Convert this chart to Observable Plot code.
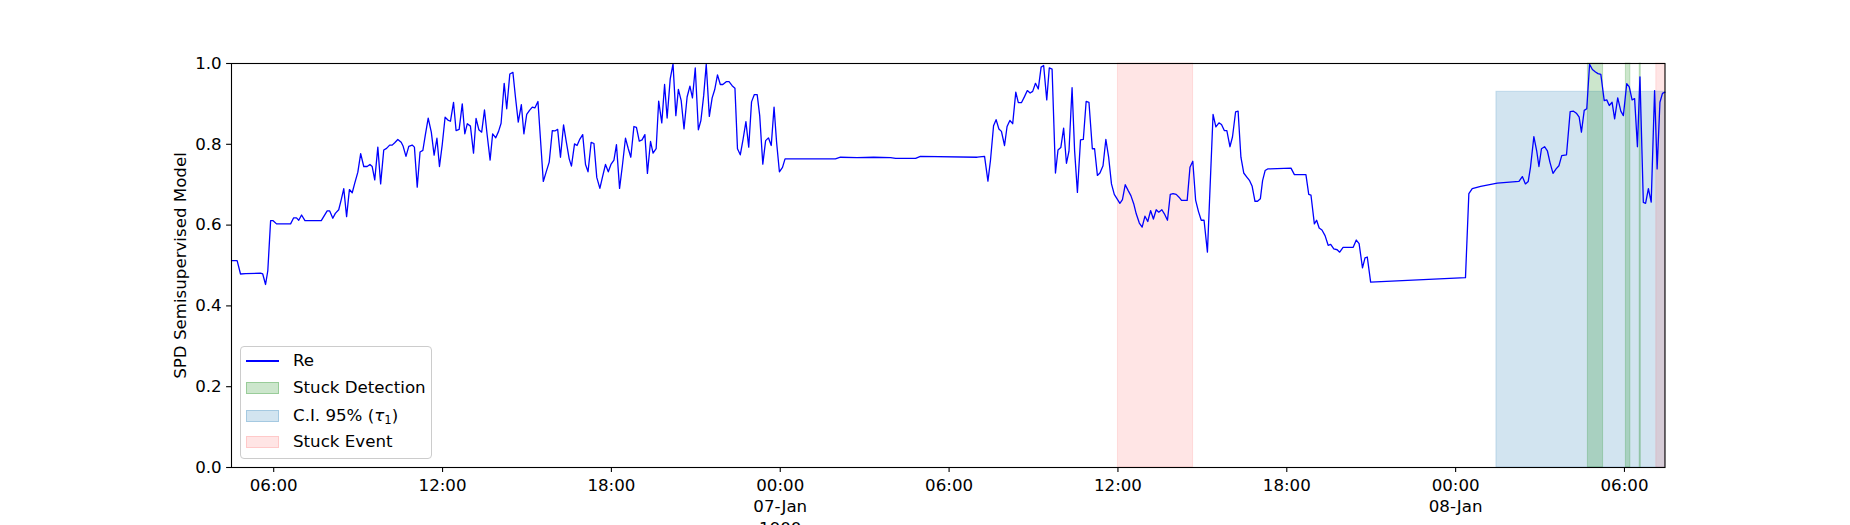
<!DOCTYPE html>
<html>
<head>
<meta charset="utf-8">
<script src="https://cdn.jsdelivr.net/npm/d3@7"></script>
<script src="https://cdn.jsdelivr.net/npm/@observablehq/plot@0.6"></script>
<style>
  html, body { margin: 0; padding: 0; background: #fff; }
  #wrap { position: relative; width: 1850px; height: 525px; overflow: hidden; font-family: "DejaVu Sans", sans-serif; }
  #legend { position: absolute; left: 240px; top: 346px; width: 192px; height: 113px; box-sizing: border-box;
            border: 1.1px solid #cccccc; border-radius: 4px; background: rgba(255,255,255,0.8); font-size: 16.67px; color: #000; }
  .row { position: absolute; left: 0; height: 22px; width: 100%; }
  .sw { position: absolute; left: 5px; width: 33.3px; box-sizing: border-box; }
  .lab { position: absolute; left: 52px; top: 0; line-height: 22px; white-space: nowrap; }
</style>
</head>
<body>
<div id="wrap"></div>
<script>
// ---- data: hours since 06-Jan-1900 00:00 and model values ----
const hours = [
  4.50,4.70,4.82,5.00,5.53,5.61,5.71,5.79,5.89,5.98,6.10,6.60,6.71,6.81,6.89,6.99,7.11,7.69,7.90,7.99,
  8.10,8.19,8.31,8.40,8.49,8.59,8.69,8.79,8.88,8.99,9.09,9.20,9.32,9.42,9.50,9.59,9.70,9.80,9.91,10.01,
  10.12,10.21,10.30,10.41,10.53,10.60,10.70,10.80,10.92,11.00,11.10,11.20,11.30,11.39,11.49,11.60,11.70,11.80,11.89,11.99,
  12.09,12.19,12.28,12.39,12.48,12.59,12.70,12.79,12.88,12.99,13.10,13.19,13.29,13.39,13.49,13.58,13.69,13.78,13.89,13.99,
  14.08,14.19,14.28,14.39,14.50,14.59,14.69,14.80,14.89,14.99,15.09,15.19,15.28,15.39,15.58,15.68,15.79,15.90,15.99,16.09,
  16.19,16.30,16.39,16.50,16.58,16.69,16.78,16.88,16.98,17.08,17.17,17.28,17.38,17.48,17.59,17.68,17.79,17.89,17.99,18.09,
  18.18,18.29,18.39,18.50,18.60,18.69,18.80,18.89,18.99,19.09,19.19,19.28,19.39,19.48,19.59,19.68,19.79,19.89,19.98,20.09,
  20.19,20.29,20.38,20.48,20.58,20.69,20.79,20.88,20.98,21.09,21.18,21.28,21.37,21.48,21.58,21.67,21.77,21.87,21.96,22.08,
  22.18,22.29,22.39,22.48,22.58,22.68,22.78,22.88,22.98,23.08,23.18,23.27,23.38,23.48,23.58,23.68,23.78,23.87,23.97,24.08,
  24.17,24.70,25.43,25.96,26.14,26.73,27.32,27.92,28.10,28.81,28.98,31.00,31.26,31.38,31.47,31.58,31.67,31.77,31.86,31.97,
  32.06,32.16,32.26,32.37,32.46,32.57,32.68,32.78,32.88,32.97,33.07,33.17,33.27,33.36,33.47,33.56,33.66,33.78,33.87,33.97,
  34.07,34.17,34.26,34.37,34.46,34.56,34.67,34.77,34.87,34.97,35.09,35.17,35.27,35.36,35.47,35.57,35.67,35.77,35.87,35.97,
  36.07,36.16,36.26,36.36,36.46,36.56,36.65,36.76,36.86,36.96,37.06,37.16,37.26,37.36,37.45,37.56,37.65,37.76,37.86,37.96,
  38.07,38.17,38.26,38.46,38.56,38.66,38.76,38.86,38.96,39.06,39.18,39.38,39.48,39.59,39.68,39.78,39.87,39.98,40.07,40.18,
  40.27,40.37,40.47,40.58,40.68,40.77,40.87,40.96,41.06,41.14,41.23,41.32,42.15,42.27,42.68,42.78,42.86,42.98,43.06,43.15,
  43.25,43.36,43.47,43.56,43.67,43.79,43.88,44.00,44.36,44.47,44.57,44.69,44.78,44.86,44.98,48.35,48.47,48.59,48.89,49.48,
  50.25,50.37,50.48,50.58,50.66,50.78,50.88,50.96,51.05,51.16,51.26,51.35,51.46,51.57,51.67,51.77,51.94,52.07,52.19,52.29,
  52.39,52.47,52.57,52.66,52.76,52.86,52.97,53.06,53.16,53.28,53.37,53.46,53.56,53.65,53.76,53.87,53.96,54.08,54.17,54.27,
  54.36,54.46,54.55,54.67,54.75,54.85,54.95,55.07,55.16,55.26,55.35,55.44
];
const values = [
  0.512,0.512,0.479,0.480,0.481,0.479,0.453,0.487,0.611,0.611,0.603,0.603,0.618,0.618,0.612,0.625,0.611,0.611,0.635,0.635,
  0.617,0.629,0.638,0.663,0.690,0.621,0.688,0.680,0.704,0.731,0.777,0.745,0.745,0.750,0.745,0.712,0.793,0.702,0.786,0.790,
  0.798,0.798,0.804,0.812,0.805,0.795,0.770,0.795,0.798,0.793,0.694,0.781,0.785,0.824,0.865,0.830,0.773,0.815,0.745,0.800,
  0.867,0.860,0.857,0.904,0.834,0.837,0.900,0.826,0.851,0.845,0.778,0.864,0.836,0.830,0.885,0.826,0.761,0.826,0.816,0.832,
  0.852,0.951,0.888,0.974,0.978,0.917,0.855,0.898,0.826,0.874,0.884,0.892,0.890,0.906,0.708,0.731,0.756,0.834,0.833,0.837,
  0.768,0.848,0.809,0.764,0.746,0.801,0.797,0.813,0.824,0.750,0.732,0.805,0.802,0.718,0.691,0.718,0.750,0.732,0.751,0.761,
  0.799,0.691,0.747,0.815,0.789,0.768,0.844,0.842,0.808,0.811,0.824,0.728,0.807,0.778,0.789,0.907,0.853,0.948,0.865,0.962,
  0.999,0.871,0.936,0.908,0.838,0.917,0.944,0.915,0.989,0.836,0.859,0.921,0.998,0.869,0.915,0.935,0.972,0.948,0.948,0.955,
  0.955,0.945,0.939,0.789,0.774,0.813,0.856,0.793,0.905,0.923,0.923,0.871,0.751,0.809,0.816,0.797,0.892,0.805,0.732,0.743,
  0.764,0.764,0.764,0.764,0.768,0.767,0.768,0.767,0.765,0.765,0.770,0.768,0.770,0.709,0.760,0.846,0.861,0.838,0.832,0.797,
  0.844,0.859,0.851,0.929,0.903,0.903,0.918,0.933,0.927,0.931,0.951,0.937,0.991,0.995,0.910,0.989,0.986,0.729,0.786,0.792,
  0.840,0.753,0.783,0.940,0.784,0.681,0.811,0.812,0.906,0.904,0.789,0.789,0.723,0.729,0.747,0.812,0.768,0.702,0.676,0.665,
  0.654,0.663,0.700,0.686,0.673,0.653,0.628,0.605,0.595,0.622,0.609,0.636,0.615,0.638,0.632,0.638,0.628,0.612,0.676,0.678,
  0.676,0.669,0.661,0.661,0.743,0.758,0.662,0.634,0.612,0.612,0.533,0.874,0.843,0.853,0.849,0.834,0.834,0.794,0.818,0.880,
  0.882,0.768,0.729,0.719,0.710,0.696,0.659,0.659,0.665,0.710,0.735,0.739,0.741,0.725,0.725,0.676,0.674,0.603,0.612,0.593,
  0.588,0.574,0.550,0.552,0.541,0.539,0.533,0.545,0.545,0.563,0.554,0.494,0.519,0.521,0.459,0.470,0.678,0.690,0.696,0.704,
  0.708,0.720,0.702,0.708,0.743,0.819,0.784,0.745,0.789,0.794,0.784,0.756,0.728,0.739,0.747,0.772,0.774,0.881,0.882,0.877,
  0.867,0.830,0.884,0.888,0.998,0.985,0.979,0.975,0.973,0.908,0.910,0.896,0.904,0.863,0.915,0.882,0.871,0.950,0.942,0.910,
  0.913,0.794,0.967,0.656,0.654,0.690,0.657,0.933,0.739,0.904,0.926,0.929
];

// shaded spans (hours since 06-Jan-1900 00:00)
const detectionStart = [52.70, 54.05, 54.54];
const detectionEnd   = [53.24, 54.21, 54.58];
const ciStart = [49.45];
const ciEnd   = [55.44];
const ciTop   = [0.93];
const eventStart = [36.00, 55.13];
const eventEnd   = [38.67, 55.44];

// axes
const tickHours  = [6, 12, 18, 24, 30, 36, 42, 48, 54];
const tickLabels = ["06:00", "12:00", "18:00", "00:00\n07-Jan\n1900", "06:00", "12:00", "18:00", "00:00\n08-Jan", "06:00"];
const yTicks = [0, 0.2, 0.4, 0.6, 0.8, 1.0];
const yLabel = "SPD Semisupervised Model";

// legend
const legendLabels = ["Re", "Stuck Detection", "C.I. 95% (<i>τ</i><sub style=\"font-size:70%;vertical-align:-0.25em\">1</sub>)", "Stuck Event"];
const legendKinds  = ["line", "patch", "patch", "patch"];
const legendFill   = ["blue", "rgba(0,128,0,0.2)", "rgba(31,119,180,0.2)", "rgba(255,0,0,0.1)"];
const legendEdge   = ["blue", "rgba(0,128,0,0.25)", "rgba(31,119,180,0.25)", "rgba(255,0,0,0.12)"];

// ---- build ----
const T0 = Date.UTC(1900, 0, 6);
const toDate = h => new Date(T0 + h * 3600000);
const series = hours.map((h, i) => ({t: toDate(h), v: values[i]}));
const spans = (s, e, top) => s.map((v, i) => ({x1: toDate(v), x2: toDate(e[i]), y1: 0, y2: top ? top[i] : 1}));
const ciRows = spans(ciStart, ciEnd, ciTop);
const detRows = spans(detectionStart, detectionEnd);
const evtRows = spans(eventStart, eventEnd);
const tickDates = tickHours.map(toDate);
const labelByTime = new Map(tickDates.map((d, i) => [d.getTime(), tickLabels[i]]));

const chart = Plot.plot({
  width: 1850,
  height: 525,
  marginLeft: 231,
  marginRight: 185.5,
  marginTop: 63,
  marginBottom: 58,
  style: {fontFamily: "DejaVu Sans", fontSize: "16.67px", background: "white", color: "black", overflow: "hidden"},
  x: {type: "utc", domain: [toDate(hours[0]), toDate(hours[hours.length - 1])]},
  y: {domain: [0, 1]},
  marks: [
    Plot.rect(ciRows, {x1: "x1", x2: "x2", y1: "y1", y2: "y2", fill: "#1f77b4", fillOpacity: 0.2, stroke: "#1f77b4", strokeOpacity: 0.2, strokeWidth: 1}),
    Plot.rect(detRows, {x1: "x1", x2: "x2", y1: "y1", y2: "y2", fill: "green", fillOpacity: 0.2, stroke: "green", strokeOpacity: 0.2, strokeWidth: 1}),
    Plot.rect(evtRows, {x1: "x1", x2: "x2", y1: "y1", y2: "y2", fill: "red", fillOpacity: 0.1, stroke: "red", strokeOpacity: 0.1, strokeWidth: 1}),
    Plot.line(series, {x: "t", y: "v", stroke: "blue", strokeWidth: 1.3}),
    Plot.frame({stroke: "black", strokeWidth: 1.1}),
    Plot.axisY({ticks: yTicks, tickFormat: d3.format(".1f"), tickSize: 4.9, tickPadding: 4.9, label: null, fontSize: 16.67, strokeWidth: 1.1}),
    Plot.axisX({ticks: tickDates, tickFormat: d => labelByTime.get(d.getTime()), tickSize: 4.9, tickPadding: 3.9, label: null, fontSize: 16.67, lineHeight: 1.27, strokeWidth: 1.1}),
    Plot.text([yLabel], {frameAnchor: "left", textAnchor: "middle", lineAnchor: "middle", dx: -51, rotate: -90, text: d => d, fontSize: 16.67})
  ]
});

const wrap = document.getElementById("wrap");
wrap.appendChild(chart);

// legend overlay
const leg = document.createElement("div");
leg.id = "legend";
const rowCenters = [14, 41.3, 69, 95];
legendLabels.forEach((lab, i) => {
  const row = document.createElement("div");
  row.className = "row";
  row.style.top = (rowCenters[i] - 11) + "px";
  const sw = document.createElement("div");
  sw.className = "sw";
  if (legendKinds[i] === "line") {
    sw.style.height = "1.4px";
    sw.style.top = "10.3px";
    sw.style.background = legendFill[i];
  } else {
    sw.style.height = "11.7px";
    sw.style.top = "5.2px";
    sw.style.background = legendFill[i];
    sw.style.border = "1px solid " + legendEdge[i];
  }
  const tx = document.createElement("div");
  tx.className = "lab";
  tx.innerHTML = lab;
  row.appendChild(sw);
  row.appendChild(tx);
  leg.appendChild(row);
});
wrap.appendChild(leg);
</script>
</body>
</html>
